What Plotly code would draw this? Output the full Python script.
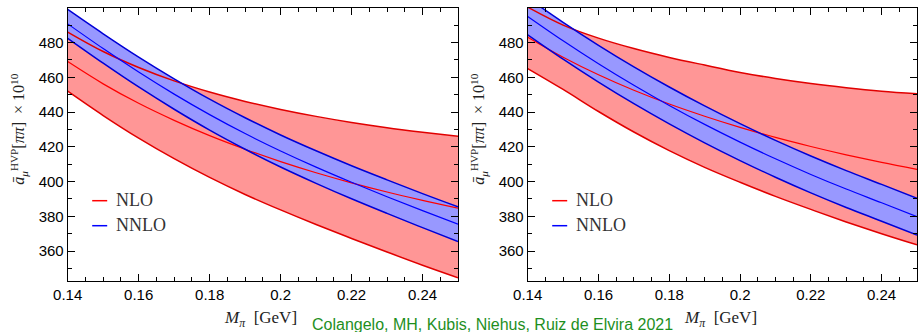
import plotly.graph_objects as go

# ---------------- data ----------------
M_PI = [0.14, 0.15, 0.16, 0.17, 0.18, 0.19, 0.20, 0.21, 0.22, 0.23, 0.24, 0.25]

# left panel
L_NLO_UP = [486.0, 474.8, 465.6, 457.9, 451.5, 446.1, 441.5, 437.5, 434.0, 431.0, 428.4, 426.0]
L_NLO_C = [469.0, 456.2, 445.0, 435.2, 426.4, 418.6, 411.5, 405.1, 399.3, 394.0, 389.2, 384.7]
L_NLO_LO = [452.0, 438.0, 425.0, 413.2, 402.4, 392.6, 383.7, 375.3, 367.3, 359.5, 351.9, 344.7]
L_NNLO_UP = [499.0, 485.0, 471.6, 459.1, 447.4, 436.7, 426.8, 417.7, 409.1, 401.0, 393.1, 385.5]
L_NNLO_C = [490.7, 476.5, 463.0, 450.3, 438.5, 427.6, 417.6, 408.3, 399.6, 391.3, 383.3, 375.5]
L_NNLO_LO = [482.4, 468.1, 454.4, 441.6, 429.6, 418.6, 408.4, 399.0, 390.1, 381.7, 373.5, 365.5]

# right panel
R_NLO_UP = [500.3, 490.0, 482.5, 476.5, 471.4, 467.0, 462.8, 459.3, 456.4, 454.0, 452.0, 450.5]
R_NLO_C = [483.0, 471.5, 461.4, 452.5, 444.6, 437.6, 431.2, 425.4, 420.2, 415.4, 411.0, 407.0]
R_NLO_LO = [465.0, 453.0, 440.3, 428.5, 417.8, 408.2, 399.6, 391.5, 384.0, 376.8, 370.0, 363.6]
R_NNLO_UP = [505.6, 491.6, 478.4, 466.0, 454.4, 443.5, 433.3, 423.7, 414.7, 406.3, 398.4, 390.4]
R_NNLO_C = [495.0, 481.0, 467.8, 455.4, 443.8, 432.9, 422.7, 413.1, 404.1, 395.7, 387.8, 379.8]
R_NNLO_LO = [484.4, 470.4, 457.2, 444.8, 433.2, 422.3, 412.1, 402.5, 393.5, 385.1, 377.2, 369.2]

X_TICKS = [0.14, 0.16, 0.18, 0.20, 0.22, 0.24]
X_TICK_TEXT = ["0.14", "0.16", "0.18", "0.2", "0.22", "0.24"]
Y_TICKS = [360, 380, 400, 420, 440, 460, 480]
SERIES_NAMES = ["NLO", "NNLO"]
CREDIT = "Colangelo, MH, Kubis, Niehus, Ruiz de Elvira 2021"

# ---------------- styling ----------------
W, H = 918, 332
RED_FILL = "rgb(255,150,150)"
BLUE_FILL = "rgb(152,152,255)"
RED = "rgb(255,0,0)"
RED_EDGE = "rgb(225,0,0)"
BLUE = "rgb(0,0,255)"
BLUE_EDGE = "rgb(0,0,215)"
SERIF = "Liberation Serif, DejaVu Serif, serif"
SANS = "Liberation Sans, Arial, sans-serif"


def fx(p):
    return p / W


def fy(p):
    return 1 - p / H


fig = go.Figure()


def add_panel(xa, ya, nlo, nnlo):
    # filled bands
    for lo, up, fc in [(nlo[2], nlo[0], RED_FILL), (nnlo[2], nnlo[0], BLUE_FILL)]:
        fig.add_trace(go.Scatter(x=M_PI, y=lo, mode="lines",
                                 line=dict(width=0, shape="spline"),
                                 xaxis=xa, yaxis=ya, showlegend=False, hoverinfo="skip"))
        fig.add_trace(go.Scatter(x=M_PI, y=up, mode="lines",
                                 line=dict(width=0, shape="spline"),
                                 fill="tonexty", fillcolor=fc,
                                 xaxis=xa, yaxis=ya, showlegend=False, hoverinfo="skip"))
    # lines
    for series, edge, mid in [(nlo, RED_EDGE, RED), (nnlo, BLUE_EDGE, BLUE)]:
        up, c, lo = series
        for s, col, w in [(up, edge, 1.5), (lo, edge, 1.5), (c, mid, 1.2)]:
            fig.add_trace(go.Scatter(x=M_PI, y=s, mode="lines",
                                     line=dict(color=col, width=w, shape="spline"),
                                     xaxis=xa, yaxis=ya, showlegend=False))


add_panel("x", "y", (L_NLO_UP, L_NLO_C, L_NLO_LO), (L_NNLO_UP, L_NNLO_C, L_NNLO_LO))
add_panel("x2", "y2", (R_NLO_UP, R_NLO_C, R_NLO_LO), (R_NNLO_UP, R_NNLO_C, R_NNLO_LO))

common = dict(showline=True, linecolor="black", linewidth=1, mirror="allticks",
              ticks="inside", ticklen=7, tickwidth=1, tickcolor="black",
              showgrid=False, zeroline=False, automargin=False,
              tickfont=dict(family=SANS, size=15, color="black"))

xdef = dict(range=[0.14, 0.25], tickmode="array", tickvals=X_TICKS, ticktext=X_TICK_TEXT,
            minor=dict(ticks="inside", ticklen=4, dtick=0.005, tick0=0.14,
                       tickcolor="black", showgrid=False), **common)
ydef = dict(range=[343, 500], tickmode="array", tickvals=Y_TICKS,
            minor=dict(ticks="inside", ticklen=4, dtick=10, tick0=0,
                       tickcolor="black", showgrid=False), **common)

ydom = [fy(280.7), fy(7.7)]
panels_px = [(67.7, 458.0), (527.7, 917.0)]

fig.update_layout(
    width=W, height=H,
    margin=dict(l=0, r=0, t=0, b=0, pad=0),
    paper_bgcolor="white", plot_bgcolor="white",
    showlegend=False,
    xaxis=dict(domain=[fx(panels_px[0][0]), fx(panels_px[0][1])], anchor="y", **xdef),
    yaxis=dict(domain=ydom, anchor="x", **ydef),
    xaxis2=dict(domain=[fx(panels_px[1][0]), fx(panels_px[1][1])], anchor="y2", **xdef),
    yaxis2=dict(domain=ydom, anchor="x2", **ydef),
)

annotations = []
shapes = []
ytitle = "<i>ā</i><sub><i>μ</i></sub><sup>HVP</sup>[<i>ππ</i>]  × 10<sup>10</sup>"
xtitle = "<i>M</i><sub><i>π</i></sub>  [GeV]"
for (x0, x1) in panels_px:
    # y-axis title
    annotations.append(dict(x=fx(x0 - 49), y=fy(129), xref="paper", yref="paper",
                            text=ytitle, textangle=-90, showarrow=False,
                            xanchor="center", yanchor="middle",
                            font=dict(family=SERIF, size=16, color="#222")))
    # x-axis title
    annotations.append(dict(x=fx((x0 + x1) / 2 - 2), y=fy(319), xref="paper", yref="paper",
                            text=xtitle, showarrow=False, xanchor="center", yanchor="middle",
                            font=dict(family=SERIF, size=17, color="#222")))
    # legend
    for name, col, ypx in [(SERIES_NAMES[0], RED, 200.7), (SERIES_NAMES[1], BLUE, 225.7)]:
        shapes.append(dict(type="line", xref="paper", yref="paper",
                           x0=fx(x0 + 24.5), x1=fx(x0 + 39.5), y0=fy(ypx), y1=fy(ypx),
                           line=dict(color=col, width=1.5)))
        annotations.append(dict(x=fx(x0 + 46.5), y=fy(ypx - 0.5), xref="paper", yref="paper",
                                text=name, showarrow=False, xanchor="left", yanchor="middle",
                                font=dict(family=SERIF, size=18, color="#333")))

annotations.append(dict(x=fx(492.5), y=fy(324), xref="paper", yref="paper",
                        text=CREDIT, showarrow=False, xanchor="center", yanchor="middle",
                        font=dict(family=SANS, size=16, color="#1e8f1e")))

fig.update_layout(annotations=annotations, shapes=shapes)

fig.write_html("out.html", config={"displayModeBar": False},
               post_script="document.body.style.margin='0';")
